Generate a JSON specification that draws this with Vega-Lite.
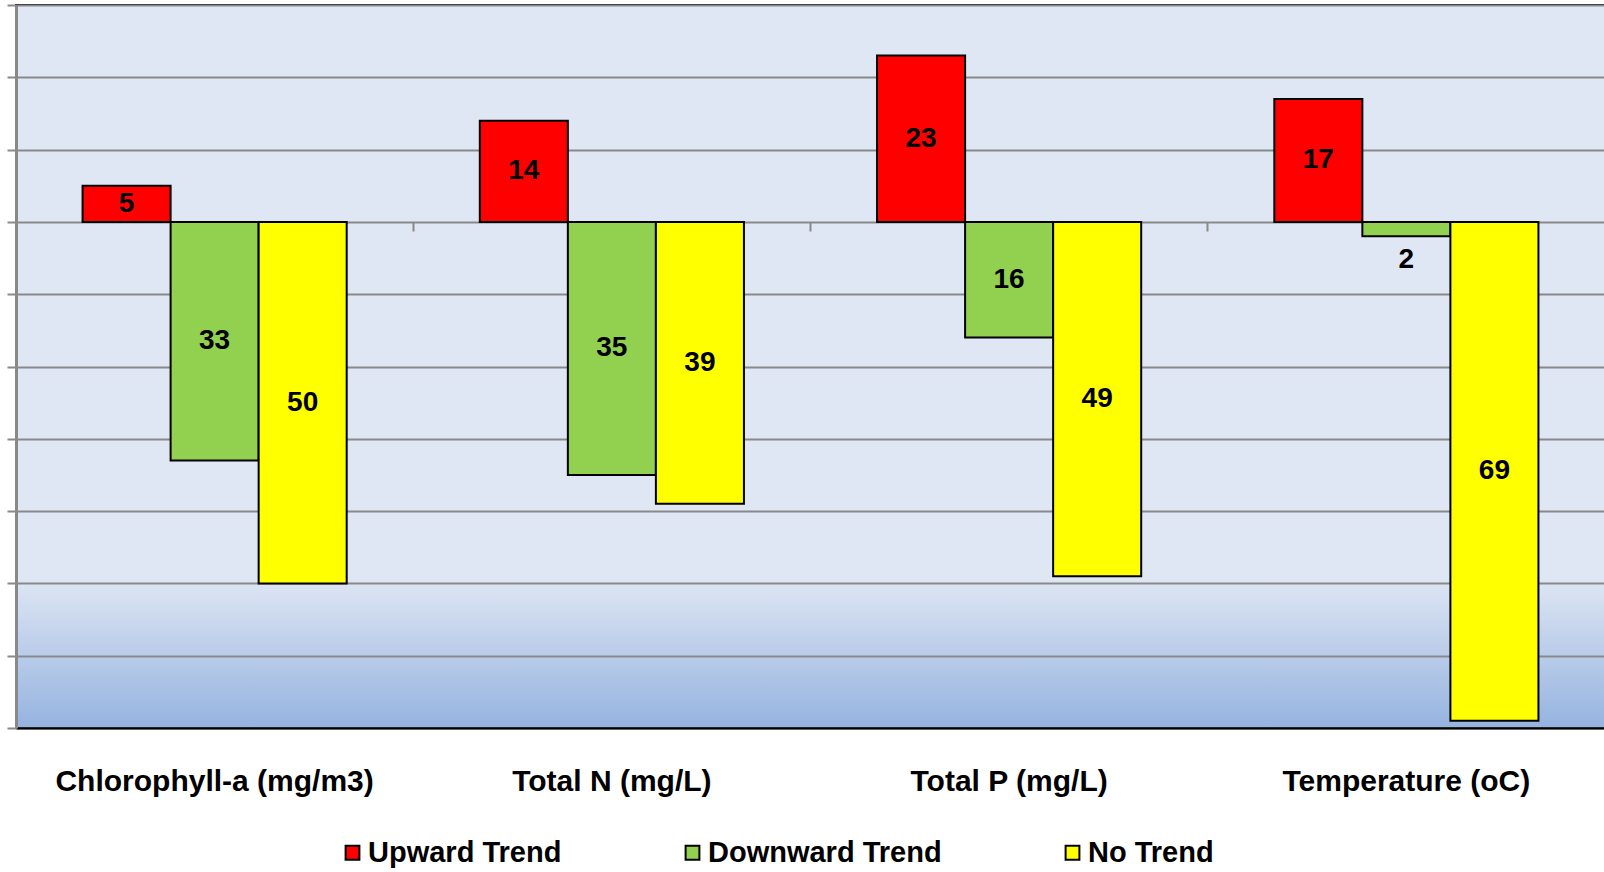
{
  "$schema": "https://vega.github.io/schema/vega-lite/v6.json",
  "autosize": {"type": "none"},
  "padding": {"left": 16, "top": 5, "right": 0, "bottom": 144},
  "width": 1589,
  "height": 723,
  "background": "white",
  "config": {
    "view": {
      "fill": {"gradient": "linear", "x1": 0, "y1": 0, "x2": 0, "y2": 1,
        "stops": [{"offset": 0, "color": "#E0E7F4"}, {"offset": 0.79, "color": "#E0E7F4"}, {"offset": 1, "color": "#95B3E0"}]},
      "stroke": "#000",
      "strokeWidth": 2
    },
    "font": "Liberation Sans"
  },
  "data": {
    "values": [
      {"parameter": "Chlorophyll-a (mg/m3)", "trend": "Upward Trend", "value": 5, "label": 5},
      {"parameter": "Chlorophyll-a (mg/m3)", "trend": "Downward Trend", "value": -33, "label": 33},
      {"parameter": "Chlorophyll-a (mg/m3)", "trend": "No Trend", "value": -50, "label": 50},
      {"parameter": "Total N (mg/L)", "trend": "Upward Trend", "value": 14, "label": 14},
      {"parameter": "Total N (mg/L)", "trend": "Downward Trend", "value": -35, "label": 35},
      {"parameter": "Total N (mg/L)", "trend": "No Trend", "value": -39, "label": 39},
      {"parameter": "Total P (mg/L)", "trend": "Upward Trend", "value": 23, "label": 23},
      {"parameter": "Total P (mg/L)", "trend": "Downward Trend", "value": -16, "label": 16},
      {"parameter": "Total P (mg/L)", "trend": "No Trend", "value": -49, "label": 49},
      {"parameter": "Temperature (oC)", "trend": "Upward Trend", "value": 17, "label": 17},
      {"parameter": "Temperature (oC)", "trend": "Downward Trend", "value": -2, "label": 2},
      {"parameter": "Temperature (oC)", "trend": "No Trend", "value": -69, "label": 69}
    ]
  },
  "resolve": {"axis": {"x": "independent"}},
  "layer": [
    {
      "mark": {"type": "bar", "stroke": "#000", "strokeWidth": 2},
      "encoding": {
        "x": {"field": "parameter", "type": "nominal", "sort": null,
          "scale": {"paddingInner": 0, "paddingOuter": 0},
          "axis": {"orient": "bottom", "title": null, "labelAngle": 0, "ticks": false, "grid": false,
            "domainColor": "#000", "domainWidth": 2, "labelFontSize": 30, "labelFontWeight": "bold",
            "labelColor": "#000", "labelPadding": 53, "labelBaseline": "middle", "labelFont": "Liberation Sans", "labelLimit": 500}},
        "xOffset": {"field": "trend", "type": "nominal", "sort": ["Upward Trend", "Downward Trend", "No Trend"],
          "scale": {"paddingInner": 0, "paddingOuter": 0.756}},
        "y": {"field": "value", "type": "quantitative",
          "scale": {"domain": [-70, 30], "nice": false, "zero": false},
          "axis": {"title": null, "labels": false, "values": [-70, -60, -50, -40, -30, -20, -10, 0, 10, 20, 30],
            "ticks": true, "tickSize": 9, "tickColor": "#898989", "tickWidth": 2,
            "domainColor": "#898989", "domainWidth": 3, "grid": true, "gridColor": "#898989", "gridWidth": 2, "gridOpacity": 1}},
        "color": {"field": "trend", "type": "nominal",
          "scale": {"domain": ["Upward Trend", "Downward Trend", "No Trend"], "range": ["#FF0000", "#92D050", "#FFFF00"]},
          "legend": {"orient": "none", "legendX": 322, "legendY": 833, "direction": "horizontal", "columns": 3,
            "title": null, "symbolType": "square", "symbolSize": 190, "symbolStrokeColor": "#000", "symbolStrokeWidth": 2,
            "symbolOpacity": 1, "labelFontSize": 29, "labelFontWeight": "bold", "labelColor": "#000", "labelOffset": 1,
            "columnPadding": 116, "labelFont": "Liberation Sans", "labelLimit": 400}}
      }
    },
    {
      "transform": [
        {"calculate": "datum.value < 0 && datum.value > -4 ? datum.value - 3.3 : datum.value / 2", "as": "mid"}
      ],
      "mark": {"type": "text", "fontSize": 28, "fontWeight": "bold", "color": "#000", "baseline": "middle", "align": "center", "font": "Liberation Sans"},
      "encoding": {
        "x": {"field": "parameter", "type": "nominal", "sort": null,
          "scale": {"paddingInner": 0, "paddingOuter": 0},
          "axis": {"orient": "top", "offset": -217, "title": null, "labels": false, "domain": false, "grid": false,
            "ticks": true, "tickSize": -9, "tickColor": "#898989", "tickWidth": 2, "bandPosition": 0}},
        "xOffset": {"field": "trend", "type": "nominal", "sort": ["Upward Trend", "Downward Trend", "No Trend"],
          "scale": {"paddingInner": 0, "paddingOuter": 0.756}},
        "y": {"field": "mid", "type": "quantitative",
          "axis": {"title": null, "labels": false, "values": [-70, -60, -50, -40, -30, -20, -10, 0, 10, 20, 30],
            "ticks": true, "tickSize": 9, "tickColor": "#898989", "tickWidth": 2,
            "domainColor": "#898989", "domainWidth": 3, "grid": true, "gridColor": "#898989", "gridWidth": 2, "gridOpacity": 1}},
        "text": {"field": "label", "type": "quantitative"}
      }
    }
  ]
}
